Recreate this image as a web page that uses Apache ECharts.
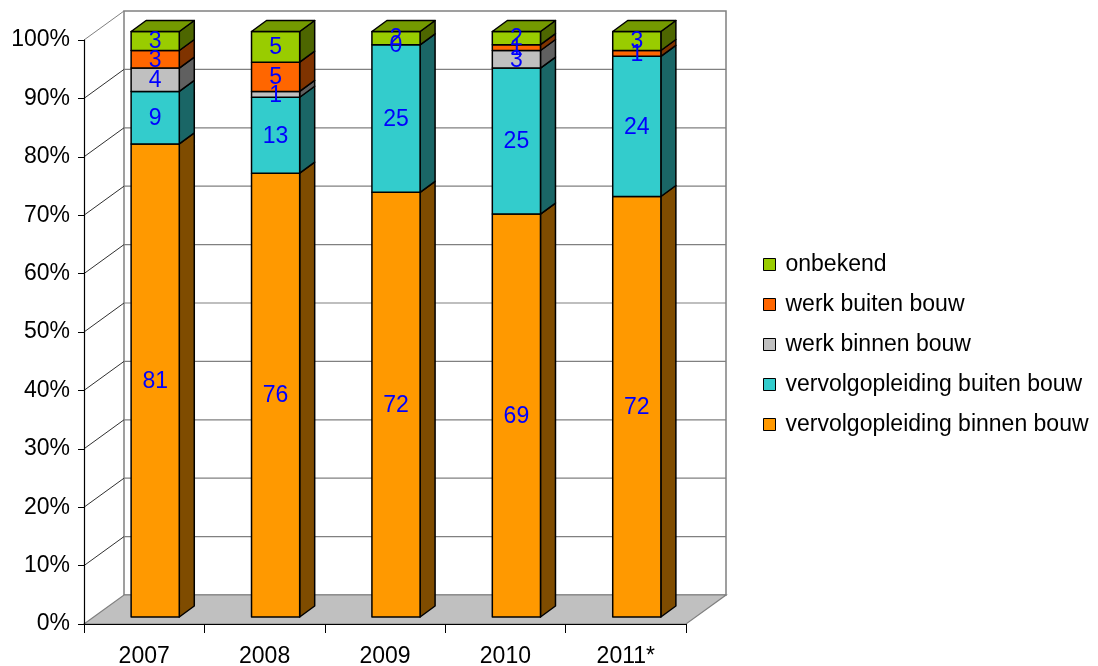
<!DOCTYPE html>
<html><head><meta charset="utf-8">
<script src="https://cdn.jsdelivr.net/npm/echarts@6/dist/echarts.min.js"></script>
<style>html,body{margin:0;padding:0;background:#fff}#c{width:1098px;height:666px}</style>
</head><body><div id="c"></div>
<script>
// ---- data ----
const categories = ['2007', '2008', '2009', '2010', '2011*'];
const vervolgBinnen = [81, 76, 72, 69, 72];
const vervolgBuiten = [9, 13, 25, 25, 24];
const werkBinnen = [4, 1, null, 3, null];
const werkBuiten = [3, 5, 0, 1, 1];
const onbekend = [3, 5, 2, 2, 3];
const seriesNames = ['vervolgopleiding binnen bouw', 'vervolgopleiding buiten bouw', 'werk binnen bouw', 'werk buiten bouw', 'onbekend'];
const yTickLabels = ['0%', '10%', '20%', '30%', '40%', '50%', '60%', '70%', '80%', '90%', '100%'];

// ---- styles ----
const frontColors = ['#FF9900', '#33CCCC', '#C0C0C0', '#FF6600', '#99CC00'];
const sideColors = ['#7F4C00', '#1A6666', '#606060', '#7F3300', '#4D6600'];
const topColors = ['#BF7300', '#269999', '#909090', '#BF4C00', '#749A00'];
const FONT = '"Liberation Sans", Arial, sans-serif';
const FDX = 11, FDY = -7;     // bar front plane offset
const DDX = 15, DDY = -11;    // bar depth
const WDX = 40, WDY = -29;    // wall depth
const BAR_FRAC = 0.4;

const values = [vervolgBinnen, vervolgBuiten, werkBinnen, werkBuiten, onbekend];
const totals = categories.map((c, i) => values.reduce((s, arr) => s + (arr[i] || 0), 0));
const topIdx = categories.map((c, i) => { let k = -1; values.forEach((arr, j) => { if (arr[i] > 0) k = j; }); return k; });
const cum = categories.map(() => 0);
const seriesData = values.map((arr, j) => arr.map((v, i) => {
  const b = cum[i] / totals[i] * 100;
  cum[i] += (v || 0);
  const t = cum[i] / totals[i] * 100;
  return [i, b, t, v == null ? -1 : v, topIdx[i] === j ? 1 : 0];
}));

function barRender(j) {
  return function (params, api) {
    const ci = api.value(0), b = api.value(1), t = api.value(2), raw = api.value(3), isTop = api.value(4);
    const band = api.size([1, 0])[0];
    const w = band * BAR_FRAC;
    const pb = api.coord([ci, b]), pt = api.coord([ci, t]);
    const xl = pb[0] + FDX - w / 2, xr = xl + w;
    const yb = pb[1] + FDY, yt = pt[1] + FDY - (isTop ? 1.5 : 0);
    const st = { stroke: '#000', lineWidth: 1.5, lineJoin: 'round' };
    const children = [];
    if (t - b > 0) {
      children.push({ type: 'polygon', shape: { points: [[xr, yb], [xr, yt], [xr + DDX, yt + DDY], [xr + DDX, yb + DDY]] }, style: Object.assign({ fill: sideColors[j] }, st) });
      children.push({ type: 'rect', shape: { x: xl, y: yt, width: w, height: yb - yt }, style: Object.assign({ fill: frontColors[j] }, st) });
      if (isTop) children.push({ type: 'polygon', shape: { points: [[xl, yt], [xr, yt], [xr + DDX, yt + DDY], [xl + DDX, yt + DDY]] }, style: Object.assign({ fill: topColors[j] }, st) });
    }
    if (raw >= 0) {
      children.push({ type: 'text', x: (xl + xr) / 2, y: (yb + yt) / 2 + 1, z2: 100,
        style: { text: String(raw), fill: '#0000FF', fontSize: 23, fontFamily: FONT, align: 'center', verticalAlign: 'middle' } });
    }
    return { type: 'group', children };
  };
}

function wallRender(params, api) {
  const cs = params.coordSys;
  const x0 = cs.x, x1 = cs.x + cs.width, yT = cs.y, yB = cs.y + cs.height;
  const children = [];
  children.push({ type: 'rect', shape: { x: x0 + WDX, y: yT + WDY, width: cs.width, height: cs.height }, style: { fill: '#fff', stroke: '#808080', lineWidth: 1.5 } });
  children.push({ type: 'polygon', shape: { points: [[x0, yB], [x0 + WDX, yB + WDY], [x1 + WDX, yB + WDY], [x1, yB]] }, style: { fill: '#C0C0C0', stroke: '#808080', lineWidth: 1.2 } });
  for (let k = 1; k < yTickLabels.length; k++) {
    const v = parseFloat(yTickLabels[k]);
    const y = api.coord([0, v])[1];
    if (k < yTickLabels.length - 1) children.push({ type: 'line', shape: { x1: x0 + WDX, y1: y + WDY, x2: x1 + WDX, y2: y + WDY }, style: { stroke: '#808080', lineWidth: 1.2 } });
    children.push({ type: 'line', shape: { x1: x0, y1: y, x2: x0 + WDX, y2: y + WDY }, style: { stroke: k === yTickLabels.length - 1 ? '#808080' : '#303030', lineWidth: 1 } });
  }
  return { type: 'group', children };
}

const chart = echarts.init(document.getElementById('c'), null, { renderer: 'canvas' });
const series = [{
  type: 'custom', name: '_walls', z: 1, silent: true, renderItem: wallRender, data: [[0, 0]], clip: false
}];
seriesNames.forEach((n, j) => {
  series.push({
    type: 'custom', name: n, z: 2, clip: false, renderItem: barRender(j),
    itemStyle: { color: frontColors[j], borderColor: '#000', borderWidth: 1 },
    encode: { x: 0, y: [1, 2] },
    data: seriesData[j]
  });
});

chart.setOption({
  animation: false,
  backgroundColor: '#fff',
  textStyle: { fontFamily: FONT },
  grid: { left: 84, right: 412, top: 40, bottom: 42, containLabel: false, outerBoundsMode: 'none' },
  legend: {
    data: seriesNames.slice().reverse(),
    orient: 'vertical', left: 763, top: 253, padding: 0,
    icon: 'rect', itemWidth: 12, itemHeight: 12, itemGap: 17,
    itemStyle: { borderColor: '#000', borderWidth: 1 },
    textStyle: { fontSize: 23, color: '#000', fontFamily: FONT, lineHeight: 23, padding: [0, 0, 0, 5] },
    selectedMode: false
  },
  xAxis: {
    type: 'category', data: categories, z: 5,
    axisLine: { show: true, lineStyle: { color: '#000', width: 1.2 } },
    axisTick: { show: true, length: 9, lineStyle: { color: '#000' } },
    axisLabel: { fontSize: 23, color: '#000', margin: 21, fontFamily: FONT },
    splitLine: { show: false }
  },
  yAxis: {
    type: 'value', min: 0, max: 100, interval: 10, z: 5,
    axisLine: { show: true, lineStyle: { color: '#000', width: 1.2 } },
    axisTick: { show: true, length: 6, lineStyle: { color: '#000' } },
    axisLabel: { fontSize: 23, color: '#000', margin: 14, fontFamily: FONT,
      formatter: (v) => yTickLabels[Math.round(v / 10)] },
    splitLine: { show: false }
  },
  series
});
</script></body></html>
